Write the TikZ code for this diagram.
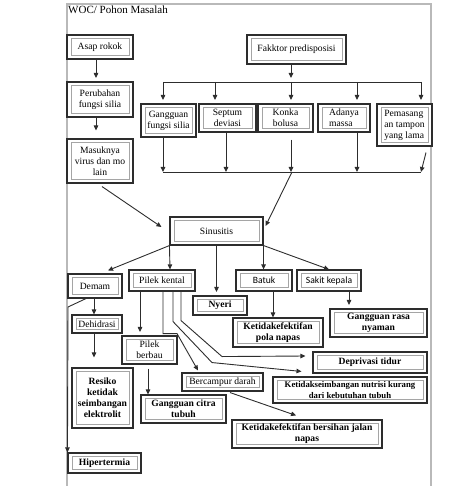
\documentclass[tikz,border=0pt]{standalone}
\usepackage{fontspec}
\setmainfont{Liberation Serif}
\newfontfamily\calfont{Carlito}
\usepackage{tikz}
\usetikzlibrary{arrows.meta}
\definecolor{mydark}{RGB}{45,45,45}
\definecolor{myframe}{RGB}{185,185,185}
\definecolor{myinner}{RGB}{165,165,165}
\newcommand{\boxfont}{\fontsize{9.6}{11}\selectfont}
\tikzset{
  block/.style={rectangle, draw=mydark, fill=white, line width=1.1pt,
    align=center, inner sep=0pt, font=\boxfont,
    path picture={\draw[myinner, line width=0.7pt]
      ([shift={(4pt,-3.5pt)}]path picture bounding box.north west) rectangle
      ([shift={(-4pt,3.5pt)}]path picture bounding box.south east);}},
  boldblock/.style={block, font=\boxfont\bfseries},
  sansblock/.style={block, font=\boxfont\calfont},
  sz/.style 2 args={minimum width=#1pt, minimum height=#2pt},
  arrow/.style={-{Triangle[length=5pt,width=4.5pt]}, line width=0.9pt, color=mydark},
  gap/.style={shorten >=3.5pt},
  line/.style={line width=0.9pt, color=mydark}
}
\begin{document}
\begin{tikzpicture}[x=1pt, y=-1pt]
  \useasboundingbox (0,0) rectangle (474,486);
  \draw[myframe, line width=1.2pt] (67,486) -- (67,4) -- (431,4) -- (431,486);
  \node[anchor=base west, inner sep=0pt, font=\fontsize{11}{13}\selectfont] (title) at (68,14) {WOC/ Pohon Masalah};

  \node[block, sz={66}{24}] (asap) at (100,47) {Asap rokok};
  \node[block, sz={66}{35}] (ubah) at (100,99.5) {Perubahan\\fungsi silia};
  \node[block, sz={66}{44}] (virus) at (100,161) {Masuknya\\virus dan mo\\lain};
  \node[block, sz={99}{29}] (faktor) at (296.5,49.5) {Fakktor predisposisi};
  \node[block, sz={55}{33}] (silia) at (168.5,120.5) {Gangguan\\fungsi silia};
  \node[block, sz={57}{28}] (septum) at (227.5,118) {Septum\\deviasi};
  \node[block, sz={55}{28}] (konka) at (285.5,118) {Konka\\bolusa};
  \node[block, sz={52}{28}, align=left] (massa) at (344,118) {Adanya\\massa};
  \node[block, sz={55}{42}, align=left] (tampon) at (404.5,125) {Pemasang\\an tampon\\yang lama};
  \node[block, sz={93}{28}] (sinus) at (216.5,231) {Sinusitis};
  \node[block, sz={54}{24}] (demam) at (95,286) {Demam};
  \node[block, sz={66}{21}] (pilek) at (162,280.5) {Pilek kental};
  \node[boldblock, sz={54}{19}] (nyeri) at (220,305.5) {Nyeri};
  \node[sansblock, sz={56}{21}] (batuk) at (264,280.5) {Batuk};
  \node[sansblock, sz={64}{21}] (sakit) at (329,280.5) {Sakit kepala};
  \node[block, sz={50}{18}] (dehid) at (97,324) {Dehidrasi};
  \node[boldblock, sz={61}{60}] (resiko) at (102.5,398) {Resiko\\ketidak\\seimbangan\\elektrolit};
  \node[boldblock, sz={73}{20}] (hiper) at (104.5,463) {Hipertermia};
  \node[block, sz={55}{28}] (berbau) at (149.5,350) {Pilek\\berbau};
  \node[boldblock, sz={85}{28}] (citra) at (183.5,409) {Gangguan citra\\tubuh};
  \node[block, sz={81}{18}] (campur) at (222.5,382) {Bercampur darah};
  \node[boldblock, sz={150}{28}] (jalan) at (307,434) {Ketidakefektifan bersihan jalan\\napas};
  \node[boldblock, sz={114}{21}] (tidur) at (370,362.5) {Deprivasi tidur};
  \node[boldblock, sz={154}{26}, font=\fontsize{8.7}{10.5}\selectfont\bfseries] (nutrisi) at (350,390) {Ketidakseimbangan nutrisi kurang\\dari kebutuhan tubuh};
  \node[boldblock, sz={90}{29}] (pola) at (278,332.5) {Ketidakefektifan\\pola napas};
  \node[boldblock, sz={97}{28}] (rasa) at (378.5,323) {Gangguan rasa\\nyaman};

  \coordinate (busA) at (163,82);
  \coordinate (busB) at (421,82);
  \coordinate (busC) at (163,172);
  \coordinate (busD) at (421,172);
  \coordinate (busM) at (292,172);
  \coordinate (bendL) at (68,307);

  \draw[arrow, gap] ([xshift=-4]asap.south) -- ([xshift=-4]ubah.north);
  \draw[arrow, shorten >=8pt] ([xshift=-4]ubah.south) -- ([xshift=-4]virus.north);
  \draw[arrow] ([shift={(2,3)}]virus.south) -- ([shift={(-8,-4)}]sinus.west);

  \draw[arrow, shorten >=4pt] ([xshift=-5.5]faktor.south) -- ([xshift=-5.5]faktor.south |- busA);
  \draw[line] (busA) -- (busB);
  \draw[arrow, gap] (busA) -- ([xshift=-5.5]silia.north);
  \draw[arrow, gap] ([xshift=-12.5]septum.north |- busA) -- ([xshift=-12.5]septum.north);
  \draw[arrow, gap] ([xshift=5.5]konka.north |- busA) -- ([xshift=5.5]konka.north);
  \draw[arrow, gap] ([xshift=13]massa.north |- busA) -- ([xshift=13]massa.north);
  \draw[arrow, gap] (busB) -- ([xshift=16.5]tampon.north);

  \draw[line] (busC) -- (busD);
  \draw[arrow] ([xshift=-5.5]silia.south) -- (busC);
  \draw[arrow] ([xshift=-1.5]septum.south) -- ([xshift=-1.5]septum.south |- busC);
  \draw[arrow] ([shift={(5.5,7)}]konka.south) -- ([xshift=5.5]konka.south |- busC);
  \draw[arrow] ([xshift=13]massa.south) -- ([xshift=13]massa.south |- busC);
  \draw[arrow] ([shift={(21.5,6)}]tampon.south) -- (busD);
  \draw[arrow] (busM) -- ([shift={(2,-5)}]sinus.east);

  \draw[arrow] (sinus.south west) -- ([shift={(13,-3)}]demam.north);
  \draw[arrow] (sinus.south west) -- ([xshift=8]pilek.north);
  \draw[arrow, gap] (sinus.south) -- (sinus.south |- nyeri.north);
  \draw[arrow] (sinus.south east) -- (sinus.south east |- batuk.north);
  \draw[arrow] (sinus.south east) -- (sakit.north);

  \draw[arrow] ([xshift=-1]demam.south) -- ([xshift=-1]demam.south |- dehid.north);
  \draw[arrow] ([xshift=-9]demam.south) -- (bendL) -- (hiper.north west);
  \draw[arrow] ([xshift=-3]dehid.south) -- ([shift={(-8.5,-10)}]resiko.north);

  \draw[arrow, gap] ([xshift=-22]pilek.south) -- ([xshift=-22]pilek.south |- berbau.north);
  \draw[arrow] ([shift={(-1.5,4)}]berbau.south) -- ([xshift=-35.5]citra.north);
  \draw[arrow] ([xshift=1]pilek.south) -- ++(0,42) -- ++(14,0) -- ([shift={(-24.5,-2)}]campur.north);
  \draw[arrow] ([xshift=11]pilek.south) -- ++(0,30) -- ++(39,41) -- ([shift={(29,-5)}]nutrisi.north west);
  \draw[arrow] ([xshift=19]pilek.south) -- ++(0,29) -- ++(41,36) -- ([shift={(-7,-6.5)}]tidur.west);
  \draw[arrow] ([shift={(7.5,1)}]campur.south) -- ([shift={(-11,-4)}]jalan.north);

  \draw[arrow] ([xshift=9]batuk.south) -- ([xshift=9]batuk.south |- pola.north);
  \draw[arrow, gap] ([xshift=20]sakit.south) -- ([xshift=20]sakit.south |- rasa.north);
\end{tikzpicture}
\end{document}
